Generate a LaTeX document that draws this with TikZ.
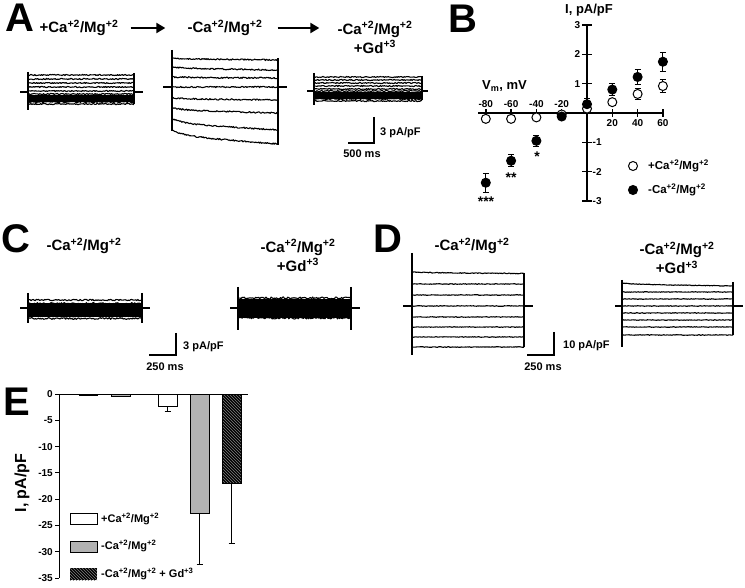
\documentclass[tikz,border=0pt]{standalone}
\usepackage{fontspec}
\setmainfont{Liberation Sans}
\usetikzlibrary{arrows.meta,patterns}

\newcommand{\fs}[1]{\fontsize{#1}{#1}\selectfont}
\newcommand{\camg}[1]{#1Ca\textsuperscript{+2}/Mg\textsuperscript{+2}}
\newcommand{\gd}{+Gd\textsuperscript{+3}}
% noisy current trace: x0, x1, y0, y1, noise
\newcommand{\noisy}[5]{%
  \draw[trace] plot[domain=#1:#2, samples=110]
    (\x, {#3+(#4-#3)*(0.6*(\x-#1)/(#2-#1)+0.4*(1-exp(-8*(\x-#1)/(#2-#1))))+#5*rand});}

\begin{document}
\begin{tikzpicture}[x=1pt,y=-1pt,
  trace/.style={line width=1.1pt, line join=round},
  hold/.style={line width=2.4pt},
  scalebar/.style={line width=1.8pt},
  bigarrow/.style={line width=2.6pt, -{Triangle[length=9pt,width=10pt]}},
  panel/.style={font=\fs{40}\bfseries, inner sep=0pt},
  title/.style={font=\fontsize{15}{19}\selectfont\bfseries, inner sep=0pt, align=center},
  small/.style={font=\fs{11}\bfseries, inner sep=0pt},
  tick/.style={font=\fs{10}\bfseries, inner sep=0pt},
  star/.style={font=\fs{14}\bfseries, inner sep=0pt},
  opendot/.style={circle, draw, line width=1pt, fill=white, minimum size=9pt, inner sep=0pt},
  filldot/.style={circle, draw, line width=1pt, fill=black, minimum size=9pt, inner sep=0pt},
  bar/.style={draw, line width=0.8pt}]
\useasboundingbox (0,0) rectangle (745,588);
\pgfmathsetseed{12}

% ---------------- panel A
\node[panel] (labA) at (20,18) {A};
\node[title] (tA1) at (79,28) {\camg{+}};
\node[title] (tA2) at (225,28) {\camg{-}};
\node[title] (tA3) at (375,37.5) {\camg{-}\\\gd};
\draw[bigarrow, shorten <=12pt, shorten >=22pt] (tA1.east) -- (tA2.west |- tA1.east);
\draw[bigarrow, shorten <=15pt, shorten >=18pt] (tA2.east) -- (tA3.west |- tA2.east);

% +Ca/Mg traces
\fill[black] (28,95) rectangle (134,102);
\foreach \y in {75,79,83,87,91,94,96,98,100,102,104} {\noisy{28}{134}{\y}{\y}{0.6}}
\draw[trace] (28,72) -- (28,110);
\draw[trace] (134,73) -- (134,104);
\draw[hold] (20,92) -- (28,92) (134,92) -- (143,92);

% -Ca/Mg traces
\foreach \a/\b in {58/60,67/70,77/78,87/87,98/100,108/113,119/130,130/144} {\noisy{172}{278}{\a}{\b}{0.7}}
\draw[trace] (172,50) -- (172,131);
\draw[trace] (278,58) -- (278,145);
\draw[hold] (163,87) -- (172,87) (278,87) -- (287,87);

% Gd traces
\fill[black] (314,92) rectangle (422,99);
\foreach \y in {77,80,83,86,89,91,93,95,97,99,101} {\noisy{314}{422}{\y}{\y}{0.6}}
\draw[trace] (314,73) -- (314,105);
\draw[trace] (422,76) -- (422,100);
\draw[hold] (307,91) -- (314,91) (422,91) -- (428,91);

% scale bar A
\draw[scalebar] (374,117) -- (374,143) -- (348,143);
\node[small, anchor=west] (sA1) at (380,133) {3 pA/pF};
\node[small] (sA2) at (362,154) {500 ms};

% ---------------- panel B
\node[panel] (labB) at (463,19) {B};
\node[font=\fs{13}\bfseries, inner sep=0pt] (yB) at (589,10) {I, pA/pF};
\node[font=\fs{13}\bfseries, inner sep=0pt, anchor=west] (xB) at (482,86) {V\textsubscript{m}, mV};
\begin{scope}[shift={(587,113)}, x=1.265pt, y=29.3pt, line width=1.4pt]
  \draw (-86,0) -- (60,0);
  \draw (0,-3) -- (0,3);
  \foreach \v [count=\i] in {-80,-60,-40,-20} {
    \draw (\v,0) ++(0,-4pt) -- ++(0,8pt);
    \node[tick, anchor=south, yshift=5pt] (bxn\i) at (\v,0) {\v};
  }
  \foreach \v [count=\i] in {20,40,60} {
    \draw (\v,0) ++(0,-4pt) -- ++(0,8pt);
    \node[tick, anchor=north, yshift=-6pt] (bxp\i) at (\v,0) {\v};
  }
  \foreach \v [count=\i] in {1,2,3} {
    \draw (0,\v) ++(-5pt,0) -- ++(10pt,0);
    \draw (0,-\v) ++(-5pt,0) -- ++(10pt,0);
    \node[tick, anchor=east, xshift=-6pt] (byp\i) at (0,\v) {\v};
    \node[tick, anchor=west, xshift=5pt] (byn\i) at (0,-\v) {-\v};
  }
  % error bars
  \foreach \v/\m/\e in {-80/-0.2/0.05,-60/-0.2/0.05,-40/-0.15/0.05,-20/-0.05/0.05,0/0.15/0.08,20/0.37/0.08,40/0.65/0.19,60/0.92/0.22,
                       -80/-2.38/0.33,-60/-1.63/0.2,-40/-0.95/0.18,-20/-0.12/0.1,0/0.3/0.19,20/0.8/0.2,40/1.23/0.25,60/1.75/0.33} {
    \draw[line width=1pt] (\v,\m-\e) -- (\v,\m+\e);
    \draw[line width=1pt] (\v,\m-\e) ++(-3pt,0) -- ++(6pt,0);
    \draw[line width=1pt] (\v,\m+\e) ++(-3pt,0) -- ++(6pt,0);
  }
  \foreach \v/\m [count=\i] in {-80/-0.2,-60/-0.2,-40/-0.15,-20/-0.05,0/0.15,20/0.37,40/0.65,60/0.92}
    \node[opendot] (po\i) at (\v,\m) {};
  \foreach \v/\m [count=\i] in {-80/-2.38,-60/-1.63,-40/-0.95,-20/-0.12,0/0.3,20/0.8,40/1.23,60/1.75}
    \node[filldot] (pf\i) at (\v,\m) {};
\end{scope}
\node[star] (st3) at (486,202) {***};
\node[star] (st2) at (511,178) {**};
\node[star] (st1) at (537,157) {*};
\node[opendot] (lgB1) at (633,166) {};
\node[filldot] (lgB2) at (633,190) {};
\node[font=\fs{11.5}\bfseries, inner sep=0pt, anchor=west] (lgB1t) at (648,166) {\camg{+}};
\node[font=\fs{11.5}\bfseries, inner sep=0pt, anchor=west] (lgB2t) at (648,190) {\camg{-}};

% ---------------- panel C
\node[panel] (labC) at (16,239) {C};
\node[title] (tC1) at (84,246) {\camg{-}};
\node[title] (tC2) at (298,255.5) {\camg{-}\\\gd};
\fill[black] (28,303) rectangle (142,317.5);
\noisy{28}{142}{300}{300}{0.7}
\foreach \y in {303.5,306,...,318.5} {\noisy{28}{142}{\y}{\y}{0.9}}
\draw[trace] (28,293) -- (28,323) (142,293) -- (142,323);
\draw[hold] (20,308) -- (28,308) (142,308) -- (150,308);
\fill[black] (238,299) rectangle (351,318);
\foreach \y in {298,300.5,...,318.5} {\noisy{238}{351}{\y}{\y}{1.0}}
\draw[trace] (238,287) -- (238,330) (351,287) -- (351,330);
\draw[hold] (230,308) -- (238,308) (351,308) -- (360,308);
\draw[scalebar] (176,333) -- (176,355) -- (149,355);
\node[small, anchor=west] (sC1) at (183,347) {3 pA/pF};
\node[small] (sC2) at (165,367) {250 ms};

% ---------------- panel D
\node[panel] (labD) at (388,239) {D};
\node[title] (tD1) at (472,246) {\camg{-}};
\node[title] (tD2) at (677,258) {\camg{-}\\\gd};
\noisy{412}{524}{272}{273.5}{0.4}
\foreach \y in {284,295,306,317,327,337,347} {\noisy{412}{524}{\y}{\y}{0.3}}
\draw[trace] (412,253) -- (412,355) (524,273) -- (524,347);
\draw[line width=1.6pt] (403,306) -- (412,306) (524,306) -- (533,306);
\noisy{622}{733}{283}{286}{0.3}
\foreach \y in {292,299,306,313,320,327,335} {\noisy{622}{733}{\y}{\y}{0.3}}
\draw[trace] (622,280) -- (622,347) (733,282) -- (733,335);
\draw[line width=1.6pt] (615,306) -- (622,306) (733,306) -- (743,306);
\draw[scalebar] (554,332) -- (554,355) -- (527,355);
\node[small, anchor=west] (sD1) at (563,346) {10 pA/pF};
\node[small] (sD2) at (543,367) {250 ms};

% ---------------- panel E
\node[panel] (labE) at (17,402) {E};
\node[font=\fs{16}\bfseries, inner sep=0pt, rotate=90] (yE) at (22,483) {I, pA/pF};
\draw[line width=1pt] (59,394) -- (248,394);
\draw[line width=1pt] (59,394) -- (59,578);
\foreach \v [count=\i] in {0,-5,...,-35} {
  \draw[line width=1pt] (55,{394-\v*5.26}) -- (59,{394-\v*5.26});
  \node[tick, anchor=east] (et\i) at (53,{394-\v*5.26}) {\v};
}
% bars
\draw[bar, fill=white] (79,394) rectangle (97,395.5);
\draw[bar, fill=gray!60] (111,394) rectangle (130,396.6);
\draw[bar, fill=white] (158,394) rectangle (177,406);
\draw[line width=0.8pt] (167.5,406) -- (167.5,411.4) (164.5,411.4) -- (170.5,411.4);
\draw[line width=0.8pt] (199.5,513.4) -- (199.5,563.9) (196.5,563.9) -- (202.5,563.9);
\draw[line width=0.8pt] (231.5,483.4) -- (231.5,542.9) (228.5,542.9) -- (234.5,542.9);
\draw[bar, fill=gray!60] (190,394) rectangle (209,513.4);
\fill[black] (222,394) rectangle (241,483.4);
\fill[pattern=north west lines, pattern color=gray] (222,394) rectangle (241,483.4);
\draw[line width=0.8pt] (222,394) rectangle (241,483.4);
% legend
\draw[bar, fill=white] (70,513) rectangle (97,524);
\draw[bar, fill=gray!60] (70,541) rectangle (97,552);
\fill[black] (70,568) rectangle (97,580);
\fill[pattern=north west lines, pattern color=gray] (70,568) rectangle (97,580);
\node[font=\fs{11}\bfseries, inner sep=0pt, anchor=west] (lgE1) at (101,519) {\camg{+}};
\node[font=\fs{11}\bfseries, inner sep=0pt, anchor=west] (lgE2) at (101,546) {\camg{-}};
\node[font=\fs{11}\bfseries, inner sep=0pt, anchor=west] (lgE3) at (101,574) {\camg{-} + Gd\textsuperscript{+3}};
\end{tikzpicture}
\end{document}
